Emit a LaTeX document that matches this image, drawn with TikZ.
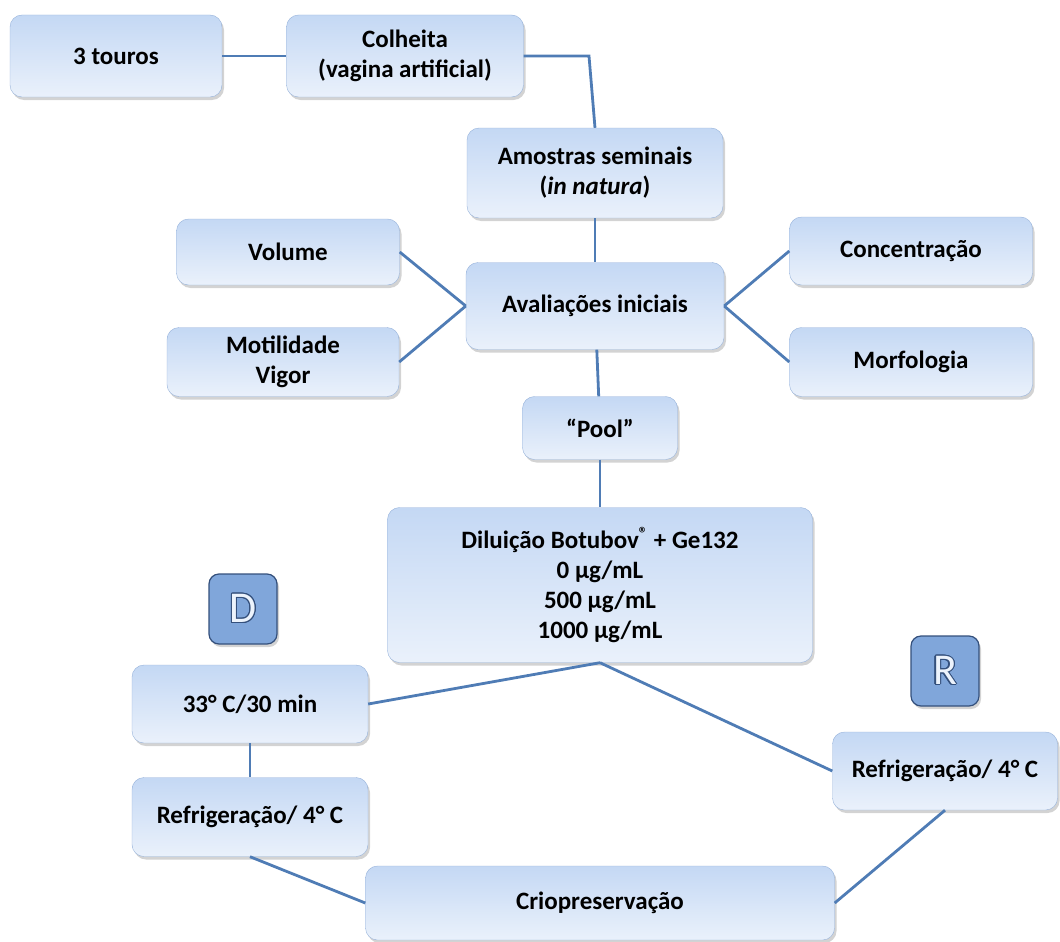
\documentclass[tikz,border=0pt]{standalone}
\usepackage{fontspec}
\setmainfont{Carlito}
\usepackage{contour}
\usetikzlibrary{shadows}
\definecolor{boxtop}{RGB}{196,216,244}
\definecolor{boxbot}{RGB}{234,241,251}
\definecolor{boxline}{RGB}{150,178,218}
\definecolor{linkcol}{RGB}{79,124,181}
\definecolor{tagfill}{RGB}{128,166,218}
\definecolor{tagline}{RGB}{52,80,124}
\definecolor{tagtext}{RGB}{236,243,252}
\contourlength{1.1pt}

\begin{document}
\begin{tikzpicture}[x=1pt, y=-1pt, every node/.style={font=\fontsize{25}{30}\selectfont\bfseries}, box/.style={draw=boxline, rounded corners=12pt, align=center, top color=boxtop, bottom color=boxbot, inner sep=0pt, drop shadow={shadow xshift=2pt, shadow yshift=-3pt, opacity=0.35}}, tag/.style={draw=tagline, line width=1.2pt, fill=tagfill, rounded corners=10pt, minimum width=68pt, minimum height=70pt, inner sep=0pt, font=\fontsize{44}{44}\selectfont\mdseries, drop shadow={shadow xshift=2pt, shadow yshift=-3pt, opacity=0.35}}, link/.style={draw=linkcol, line width=2.8pt}]
\useasboundingbox (0,0) rectangle (1060,942);
\node[box, minimum width=212pt, minimum height=82pt] (touros) at (116,56) {3 touros};
\node[box, minimum width=237pt, minimum height=82pt] (colheita) at (405,56) {Colheita\\(vagina artificial)};
\node[box, minimum width=256pt, minimum height=90pt] (amostras) at (595,173) {Amostras seminais\\(\textit{in natura})};
\node[box, minimum width=223pt, minimum height=66pt] (volume) at (288,252) {Volume};
\node[box, minimum width=258pt, minimum height=87pt] (aval) at (595,306) {Avaliações iniciais};
\node[box, minimum width=243pt, minimum height=68pt] (conc) at (911,251) {Concentração};
\node[box, minimum width=232pt, minimum height=69pt] (motil) at (283,362) {Motilidade\\Vigor};
\node[box, minimum width=243pt, minimum height=69pt] (morfo) at (911,362) {Morfologia};
\node[box, minimum width=155pt, minimum height=63pt] (pool) at (600,428) {“Pool”};
\node[box, minimum width=425pt, minimum height=155pt] (dilui) at (600,585) {Diluição Botubov\textsuperscript{®} + Ge132\\0 µg/mL\\500 µg/mL\\1000 µg/mL};
\node[tag] (tagD) at (243,609) {\contour{tagline}{\textcolor{tagtext}{D}}};
\node[tag] (tagR) at (945,671) {\contour{tagline}{\textcolor{tagtext}{R}}};
\node[box, minimum width=236pt, minimum height=78pt] (incub) at (250,704) {33° C/30 min};
\node[box, minimum width=225pt, minimum height=78pt] (refrigR) at (945,771) {Refrigeração/ 4° C};
\node[box, minimum width=236pt, minimum height=79pt] (refrigL) at (250,817) {Refrigeração/ 4° C};
\node[box, minimum width=469pt, minimum height=74pt] (crio) at (600,903) {Criopreservação};
\coordinate (bend) at (589,56);
\draw[link] (touros)--(colheita); \draw[link] (colheita.east)--(bend)--(amostras.north); \draw[link] (amostras)--(aval); \draw[link] (volume.east)--(aval.west); \draw[link] (motil.east)--(aval.west); \draw[link] (conc.west)--(aval.east); \draw[link] (morfo.west)--(aval.east); \draw[link] (aval)--(pool); \draw[link] (pool)--(dilui); \draw[link] (dilui.south)--(incub.east); \draw[link] (dilui.south)--(refrigR.west); \draw[link] (incub)--(refrigL); \draw[link] (refrigL.south)--(crio.west); \draw[link] (refrigR.south)--(crio.east);
\end{tikzpicture}
\end{document}
